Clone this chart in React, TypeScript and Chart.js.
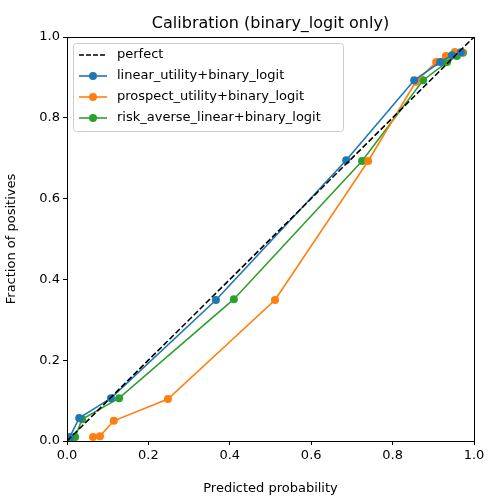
import React, { useEffect, useRef } from "react";
import { Chart, registerables } from "chart.js";
Chart.register(...registerables);

const perfectX = [0, 1];
const blueX = [0.007, 0.03, 0.108, 0.366, 0.686, 0.853, 0.917, 0.946, 0.968];
const blueY = [0.01, 0.057, 0.106, 0.349, 0.695, 0.893, 0.938, 0.955, 0.962];
const orangeX = [0.064, 0.081, 0.115, 0.248, 0.511, 0.74, 0.857, 0.907, 0.931, 0.953, 0.97];
const orangeY = [0.01, 0.012, 0.05, 0.104, 0.349, 0.693, 0.889, 0.938, 0.953, 0.963, 0.962];
const greenX = [0.012, 0.02, 0.037, 0.128, 0.41, 0.725, 0.875, 0.934, 0.958, 0.973];
const greenY = [0.008, 0.01, 0.054, 0.106, 0.351, 0.693, 0.893, 0.938, 0.953, 0.961];
const labels = ["perfect", "linear_utility+binary_logit", "prospect_utility+binary_logit", "risk_averse_linear+binary_logit"];
const colors = ["#000000", "#1f77b4", "#ff7f0e", "#2ca02c"];

const pts = (xs: number[], ys: number[]) => xs.map((x, i) => ({ x, y: ys[i] }));
const FONT = "'DejaVu Sans'";

const overlay = {
  id: "overlay",
  afterDraw(chart: any) {
    const ctx = chart.ctx;
    const a = chart.chartArea;
    ctx.save();
    ctx.fillStyle = "#000";
    ctx.font = `16px ${FONT}`;
    ctx.textAlign = "center";
    ctx.textBaseline = "alphabetic";
    ctx.fillText("Calibration (binary_logit only)", (a.left + a.right) / 2, 28);
    ctx.strokeStyle = "#000";
    ctx.lineWidth = 1;
    ctx.strokeRect(a.left + 0.5, a.top + 0.5, a.right - a.left, a.bottom - a.top);
    // legend
    const lx = 73, ly = 43, lw = 270, lh = 88;
    ctx.fillStyle = "rgba(255,255,255,0.8)";
    ctx.strokeStyle = "#ccc";
    ctx.beginPath();
    ctx.roundRect(lx + 0.5, ly + 0.5, lw, lh, 3);
    ctx.fill();
    ctx.stroke();
    ctx.font = `13px ${FONT}`;
    ctx.textAlign = "left";
    ctx.textBaseline = "middle";
    labels.forEach((t, i) => {
      const y = 55 + i * 21;
      ctx.strokeStyle = colors[i];
      ctx.lineWidth = 1.6;
      ctx.setLineDash(i === 0 ? [5, 2] : []);
      ctx.beginPath();
      ctx.moveTo(79, y);
      ctx.lineTo(107, y);
      ctx.stroke();
      ctx.setLineDash([]);
      if (i > 0) {
        ctx.fillStyle = colors[i];
        ctx.beginPath();
        ctx.arc(93, y, 4, 0, Math.PI * 2);
        ctx.fill();
      }
      ctx.fillStyle = "#000";
      ctx.fillText(t, 117, y);
    });
    ctx.restore();
  },
};

export default function App() {
  const ref = useRef<HTMLCanvasElement>(null);
  useEffect(() => {
    document.body.style.margin = "0";
    const series = [pts(blueX, blueY), pts(orangeX, orangeY), pts(greenX, greenY)];
    const chart = new Chart(ref.current!, {
      type: "scatter",
      data: {
        datasets: [
          { data: pts(perfectX, perfectX), borderColor: "#000", borderDash: [6, 2.5], borderWidth: 1.6, pointRadius: 0, showLine: true },
          ...series.map((d, i) => ({
            data: d, borderColor: colors[i + 1], backgroundColor: colors[i + 1],
            borderWidth: 1.6, pointRadius: 4, pointBorderWidth: 0, showLine: true,
          })),
        ],
      },
      options: {
        animation: false,
        responsive: false,
        devicePixelRatio: 1,
        layout: { padding: { top: 37, right: 26, left: 0, bottom: 0 } },
        plugins: { legend: { display: false }, tooltip: { enabled: false } },
        scales: {
          x: {
            min: 0, max: 1,
            ticks: { stepSize: 0.2, color: "#000", font: { family: FONT, size: 13 }, maxRotation: 0, callback: (v: any) => Number(v).toFixed(1) },
            grid: { drawOnChartArea: false, tickLength: 4, color: "#000" },
            border: { color: "#000" },
            title: { display: true, text: "Predicted probability", color: "#000", font: { family: FONT, size: 13 } },
            afterFit: (s: any) => { s.height = 59; },
          },
          y: {
            min: 0, max: 1,
            ticks: { stepSize: 0.2, color: "#000", font: { family: FONT, size: 13 }, callback: (v: any) => Number(v).toFixed(1) },
            grid: { drawOnChartArea: false, tickLength: 4, color: "#000" },
            border: { color: "#000" },
            title: { display: true, text: "Fraction of positives", color: "#000", font: { family: FONT, size: 13 } },
            afterFit: (s: any) => { s.width = 67; },
          },
        },
      },
      plugins: [overlay],
    } as any);
    return () => chart.destroy();
  }, []);
  return <canvas ref={ref} width={500} height={500} />;
}
